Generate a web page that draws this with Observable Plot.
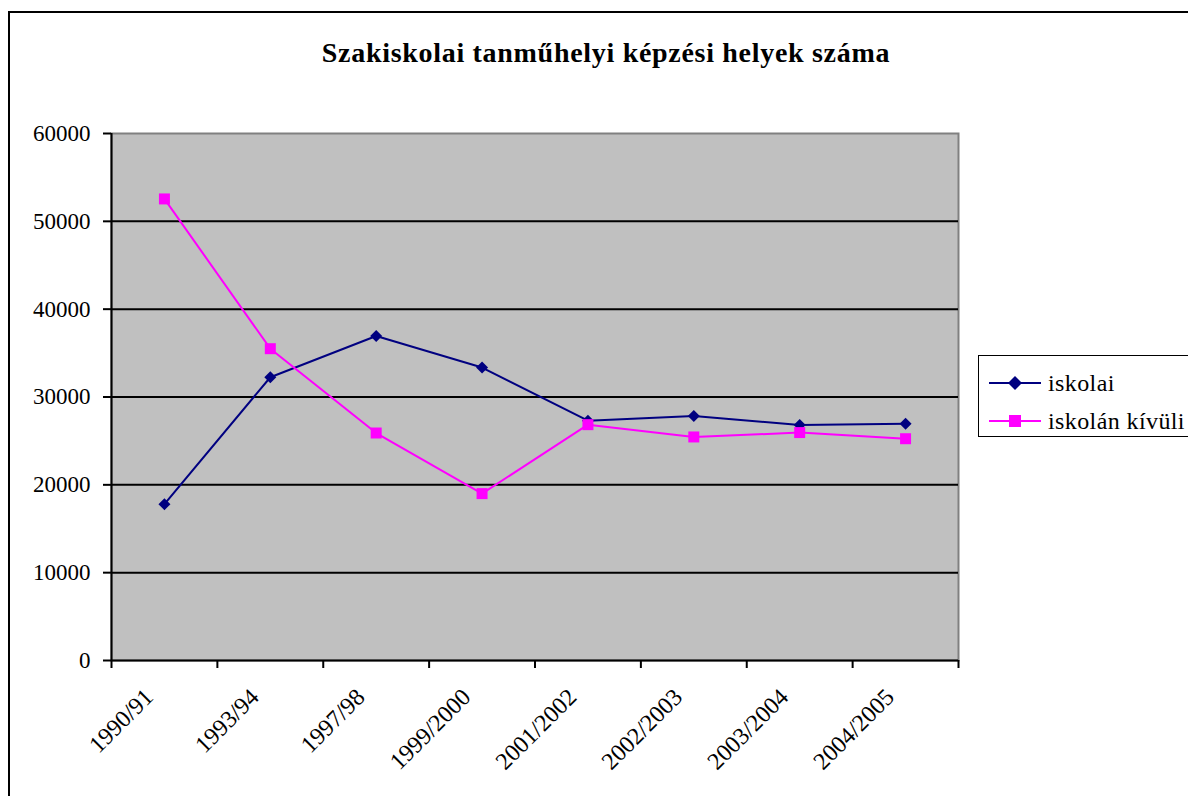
<!DOCTYPE html>
<html><head><meta charset="utf-8">
<script src="https://cdn.jsdelivr.net/npm/d3@7"></script>
<script src="https://cdn.jsdelivr.net/npm/@observablehq/plot@0.6"></script>
<style>
body{margin:0;background:#fff;font-family:"Liberation Serif","Tinos","Times New Roman","DejaVu Serif",serif;}
#wrap{position:relative;width:1188px;height:796px;overflow:hidden;background:#fff;}
#frame{position:absolute;left:8px;top:11px;width:1200px;height:820px;border:2px solid #000;box-sizing:border-box;}
#title{position:absolute;left:12px;width:1188px;top:36px;text-align:center;font-weight:bold;font-size:28px;letter-spacing:0.7px;line-height:34px;color:#000;}
#chart{position:absolute;left:0;top:110px;}
#legend{position:absolute;left:978px;top:355px;width:215px;height:82px;border:1px solid #000;box-sizing:border-box;background:#fff;}
.item{position:absolute;left:0;height:30px;display:flex;align-items:center;font-size:24px;letter-spacing:0.4px;white-space:nowrap;}
.item svg{margin-left:10px;margin-right:7px;}
</style>
</head><body>
<div id="wrap">
  <div id="frame"></div>
  <div id="title"></div>
  <div id="chart"></div>
  <div id="legend"></div>
</div>
<script>
const titleText = "Szakiskolai tanműhelyi képzési helyek száma";
const categories = ["1990/91","1993/94","1997/98","1999/2000","2001/2002","2002/2003","2003/2004","2004/2005"];
const seriesNames = ["iskolai","iskolán kívüli"];
const iskolai = [17800, 32250, 36950, 33350, 27300, 27850, 26800, 26950];
const iskolanKivuli = [52550, 35500, 25900, 19000, 26850, 25450, 25950, 25250];
const yTicks = [0,10000,20000,30000,40000,50000,60000];
const colors = ["#000080","#FF00FF"];
const symbols = ["diamond2","square"];
const FONT = '"Liberation Serif","Tinos","Times New Roman","DejaVu Serif",serif';

document.getElementById("title").textContent = titleText;

const seriesValues = [iskolai, iskolanKivuli];
const data = seriesNames.flatMap((name, s) => seriesValues[s].map((v, i) => ({series: name, cat: categories[i], i, value: v})));

const chart = Plot.plot({
  width: 1188, height: 686,
  marginTop: 23, marginBottom: 136, marginLeft: 111, marginRight: 230,
  style: {fontFamily: FONT, fontSize: "23px", background: "transparent", color: "#000"},
  x: {domain: [0, categories.length], axis: null},
  y: {domain: [0, 60000], axis: null},
  color: {domain: seriesNames, range: colors},
  symbol: {type: "identity"},
  marks: [
    Plot.frame({fill: "#C0C0C0", stroke: "#808080", strokeWidth: 2}),
    Plot.gridY(yTicks.filter(t => t > 0 && t < 60000), {stroke: "#000", strokeOpacity: 1, strokeWidth: 2}),
    Plot.axisY({ticks: yTicks, tickSize: 8, tickPadding: 13, tickFormat: d => String(d), strokeWidth: 2, fontSize: 23, fontFamily: FONT, label: null}),
    Plot.axisX({ticks: d3.range(categories.length + 1), tickSize: 8, tickFormat: () => "", strokeWidth: 2, label: null}),
    Plot.text(categories, {x: (d, i) => i + 0.5, y: () => 0, text: d => d, rotate: -45, textAnchor: "end", lineAnchor: "bottom", dx: -10, dy: 38, fontSize: 24, fontFamily: FONT}),
    Plot.ruleX([0], {stroke: "#000", strokeWidth: 2}),
    Plot.ruleY([0], {stroke: "#000", strokeWidth: 2}),
    Plot.line(data, {x: d => d.i + 0.5, y: "value", z: "series", stroke: "series", strokeWidth: 2}),
    Plot.dot(data.filter(d => d.series === seriesNames[0]), {x: d => d.i + 0.5, y: "value", fill: "series", symbol: () => symbols[0], r: 5.4}),
    Plot.dot(data.filter(d => d.series === seriesNames[1]), {x: d => d.i + 0.5, y: "value", fill: "series", symbol: () => symbols[1], r: 6.2})
  ]
});
document.getElementById("chart").appendChild(chart);

const legend = document.getElementById("legend");
seriesNames.forEach((name, s) => {
  const item = document.createElement("div");
  item.className = "item";
  item.style.top = (s === 0 ? 12 : 50) + "px";
  const sw = d3.create("svg").attr("width", 52).attr("height", 16);
  sw.append("line").attr("x1", 0).attr("x2", 52).attr("y1", 8).attr("y2", 8).attr("stroke", colors[s]).attr("stroke-width", 2);
  if (symbols[s] === "square") sw.append("rect").attr("x", 20).attr("y", 2).attr("width", 12).attr("height", 12).attr("fill", colors[s]);
  else sw.append("path").attr("d", "M26,1L33,8L26,15L19,8Z").attr("fill", colors[s]);
  item.appendChild(sw.node());
  const t = document.createElement("span");
  t.textContent = name;
  item.appendChild(t);
  legend.appendChild(item);
});
</script>
</body></html>
